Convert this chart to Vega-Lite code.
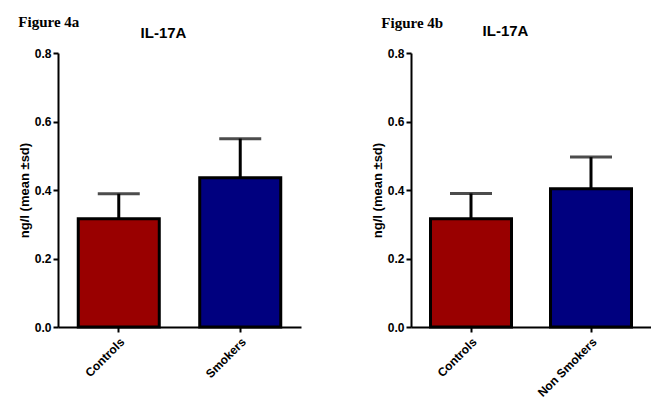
{
  "$schema": "https://vega.github.io/schema/vega-lite/v6.json",
  "padding": {"left": 18, "top": 15, "right": 0, "bottom": 0},
  "background": "white",
  "spacing": 70,
  "resolve": {"scale": {"color": "independent"}},
  "config": {
    "view": {"stroke": null},
    "font": "Liberation Sans",
    "axis": {"grid": false, "domainColor": "black", "domainWidth": 2, "tickColor": "black", "tickWidth": 2, "tickSize": 5, "labelColor": "black", "labelFont": "Liberation Sans", "labelFontWeight": "bold", "labelFontSize": 12, "titleColor": "black", "titleFont": "Liberation Sans", "titleFontWeight": "bold", "titleFontSize": 13},
    "title": {"font": "Liberation Serif", "fontSize": 15, "fontWeight": "bold", "color": "black", "anchor": "start", "frame": "bounds"}
  },
  "hconcat": [
    {
      "width": 243, "height": 274,
      "title": {"text": "Figure 4a", "offset": -5},
      "data": {"values": [
        {"group": "Controls", "mean": 0.316, "upper": 0.389},
        {"group": "Smokers", "mean": 0.436, "upper": 0.550}
      ]},
      "resolve": {"axis": {"x": "independent"}},
      "layer": [
        {"mark": {"type": "bar", "stroke": "black", "strokeWidth": 3},
         "encoding": {
           "x": {"field": "group", "type": "nominal", "sort": null, "scale": {"paddingInner": 0.333, "paddingOuter": 0.1667}, "axis": {"title": null, "labelAngle": -45, "labelPadding": 4}},
           "y": {"field": "mean", "type": "quantitative", "scale": {"domain": [0, 0.8]}, "axis": {"title": "ng/l (mean ±sd)", "values": [0, 0.2, 0.4, 0.6, 0.8], "format": ".1f", "titlePadding": 3}},
           "color": {"field": "group", "type": "nominal", "scale": {"domain": ["Controls", "Smokers"], "range": ["#990000", "#00007F"]}, "legend": null}
         }},
        {"mark": {"type": "rule", "color": "black", "strokeWidth": 3},
         "encoding": {
           "x": {"field": "group", "type": "nominal", "sort": null, "axis": {"orient": "top", "title": "IL-17A", "labels": false, "ticks": false, "domain": false, "titleFont": "Liberation Sans", "titleFontSize": 15, "titleX": 105, "titleBaseline": "alphabetic", "titlePadding": 16}},
           "y": {"field": "mean", "type": "quantitative"},
           "y2": {"field": "upper"}
         }},
        {"mark": {"type": "tick", "color": "black", "size": 42, "thickness": 3},
         "encoding": {
           "x": {"field": "group", "type": "nominal", "sort": null, "axis": null},
           "y": {"field": "upper", "type": "quantitative"}
         }}
      ]
    },
    {
      "width": 240, "height": 274,
      "title": {"text": "Figure 4b", "offset": -8, "dx": 10},
      "data": {"values": [
        {"group": "Controls", "mean": 0.316, "upper": 0.390},
        {"group": "Non Smokers", "mean": 0.404, "upper": 0.496}
      ]},
      "resolve": {"axis": {"x": "independent"}},
      "layer": [
        {"mark": {"type": "bar", "stroke": "black", "strokeWidth": 3},
         "encoding": {
           "x": {"field": "group", "type": "nominal", "sort": null, "scale": {"paddingInner": 0.325, "paddingOuter": 0.1625}, "axis": {"title": null, "labelAngle": -45, "labelPadding": 4}},
           "y": {"field": "mean", "type": "quantitative", "scale": {"domain": [0, 0.8]}, "axis": {"title": "ng/l (mean ±sd)", "values": [0, 0.2, 0.4, 0.6, 0.8], "format": ".1f", "titlePadding": 3}},
           "color": {"field": "group", "type": "nominal", "scale": {"domain": ["Controls", "Non Smokers"], "range": ["#990000", "#00007F"]}, "legend": null}
         }},
        {"mark": {"type": "rule", "color": "black", "strokeWidth": 3},
         "encoding": {
           "x": {"field": "group", "type": "nominal", "sort": null, "axis": {"orient": "top", "title": "IL-17A", "labels": false, "ticks": false, "domain": false, "titleFont": "Liberation Sans", "titleFontSize": 15, "titleX": 94, "titleBaseline": "alphabetic", "titlePadding": 18}},
           "y": {"field": "mean", "type": "quantitative"},
           "y2": {"field": "upper"}
         }},
        {"mark": {"type": "tick", "color": "black", "size": 42, "thickness": 3},
         "encoding": {
           "x": {"field": "group", "type": "nominal", "sort": null, "axis": null},
           "y": {"field": "upper", "type": "quantitative"}
         }}
      ]
    }
  ]
}
